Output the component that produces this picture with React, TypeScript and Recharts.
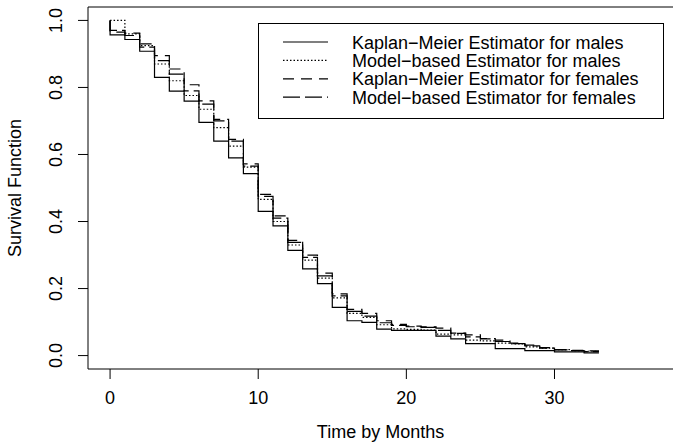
import { LineChart, Line, XAxis, YAxis, ReferenceLine, Legend, Label } from 'recharts';

// Event times in months; the first 0 is the starting point S(0) = 1
const months = [0, 0, 1, 2, 3, 4, 5, 6, 7, 8, 9, 10, 11, 12, 13, 14, 15, 16, 17, 18, 19, 20, 21, 22, 23, 24, 25, 26, 27, 28, 29, 30, 31, 32, 33];

const kmMales = [1.0, 0.957, 0.943, 0.908, 0.830, 0.789, 0.759, 0.696, 0.640, 0.590, 0.543, 0.430, 0.387, 0.314, 0.259, 0.215, 0.144, 0.104, 0.099, 0.079, 0.075, 0.075, 0.075, 0.058, 0.050, 0.036, 0.036, 0.021, 0.021, 0.015, 0.015, 0.011, 0.011, 0.008, 0.008];
const modelMales = [1.0, 1.0, 0.960, 0.925, 0.870, 0.820, 0.776, 0.735, 0.680, 0.625, 0.562, 0.466, 0.400, 0.330, 0.285, 0.231, 0.172, 0.126, 0.114, 0.092, 0.080, 0.078, 0.076, 0.064, 0.062, 0.046, 0.044, 0.037, 0.035, 0.026, 0.022, 0.018, 0.015, 0.013, 0.013];
const kmFemales = [1.0, 0.965, 0.962, 0.930, 0.895, 0.855, 0.808, 0.760, 0.705, 0.645, 0.572, 0.481, 0.417, 0.344, 0.300, 0.246, 0.184, 0.138, 0.126, 0.104, 0.093, 0.088, 0.086, 0.082, 0.067, 0.062, 0.051, 0.046, 0.037, 0.031, 0.024, 0.018, 0.016, 0.014, 0.014];
const modelFemales = [1.0, 0.970, 0.955, 0.920, 0.880, 0.840, 0.790, 0.750, 0.700, 0.640, 0.565, 0.475, 0.410, 0.338, 0.293, 0.238, 0.178, 0.132, 0.118, 0.098, 0.090, 0.086, 0.084, 0.075, 0.066, 0.056, 0.050, 0.042, 0.036, 0.029, 0.022, 0.017, 0.015, 0.012, 0.012];

const xTicks = [0, 10, 20, 30];
const yTicks = [0, 0.2, 0.4, 0.6, 0.8, 1.0];

// solid, dotted, dashed, long-dashed (R lty 1, 3, 2, 5)
const SERIES = [
  { key: 'kmMales', name: 'Kaplan\u2212Meier Estimator for males', dash: undefined },
  { key: 'modelMales', name: 'Model\u2212based Estimator for males', dash: '1.5 2' },
  { key: 'kmFemales', name: 'Kaplan\u2212Meier Estimator for females', dash: '11 7' },
  { key: 'modelFemales', name: 'Model\u2212based Estimator for females', dash: '17 5' },
];

const FONT = '"Liberation Sans", Arial, Helvetica, sans-serif';
const FS = 18;

const data = months.map((t, i) => ({
  t,
  kmMales: kmMales[i],
  modelMales: modelMales[i],
  kmFemales: kmFemales[i],
  modelFemales: modelFemales[i],
}));

function YTick({ x, y, payload }: any) {
  return (
    <text x={x} y={y} transform={`rotate(-90, ${x}, ${y})`} textAnchor="middle"
      fontSize={FS} fontFamily={FONT} fill="#000">
      {Number(payload.value).toFixed(1)}
    </text>
  );
}

function XTick({ x, y, payload }: any) {
  return (
    <text x={x} y={y} dy="0.71em" textAnchor="middle" fontSize={FS} fontFamily={FONT} fill="#000">
      {payload.value}
    </text>
  );
}

function LegendBox() {
  return (
    <div style={{ border: '1px solid #000', background: '#fff', width: 406, height: 96, boxSizing: 'border-box' }}>
      <svg width={404} height={94} style={{ display: 'block' }}>
        {SERIES.map((s, i) => {
          const cy = 18 + i * 18.4;
          return (
            <g key={s.key}>
              <line x1={24} x2={69} y1={cy} y2={cy} stroke="#000" strokeWidth={1.2} strokeDasharray={s.dash} />
              <text x={93} y={cy + 6.5} fontSize={FS} fontFamily={FONT} fill="#000">{s.name}</text>
            </g>
          );
        })}
      </svg>
    </div>
  );
}

export default function App() {
  return (
    <div style={{ position: 'absolute', left: 0, top: 0, width: 673, height: 443, background: '#fff', overflow: 'hidden' }}>
      <LineChart width={673} height={443} data={data} margin={{ top: 7, right: 0, bottom: 0, left: 0 }}>
        <XAxis dataKey="t" type="number" domain={[-1.49, 38]} ticks={xTicks} allowDataOverflow
          height={74} tickSize={10} tickMargin={12} tick={<XTick />} interval={0}
          axisLine={{ stroke: '#000' }} tickLine={{ stroke: '#000' }}>
          <Label content={({ viewBox }: any) => (
            <text x={viewBox.x + viewBox.width / 2} y={viewBox.y + 69} textAnchor="middle"
              fontSize={FS} fontFamily={FONT} fill="#000">Time by Months</text>
          )} />
        </XAxis>
        <YAxis type="number" domain={[-0.04, 1.04]} ticks={yTicks} allowDataOverflow
          width={88} tickSize={10} tickMargin={16} tick={<YTick />} interval={0}
          axisLine={{ stroke: '#000' }} tickLine={{ stroke: '#000' }}>
          <Label content={({ viewBox }: any) => {
            const cx = 21;
            const cy = viewBox.y + viewBox.height / 2;
            return (
              <text x={cx} y={cy} transform={`rotate(-90, ${cx}, ${cy})`} textAnchor="middle"
                fontSize={FS} fontFamily={FONT} fill="#000">Survival Function</text>
            );
          }} />
        </YAxis>
        {/* top edge of the plot frame */}
        <ReferenceLine y={1.04} stroke="#000" />
        {SERIES.map(s => (
          <Line key={s.key} dataKey={s.key} name={s.name} type="stepAfter" stroke="#000"
            strokeWidth={1.2} strokeDasharray={s.dash} dot={false} activeDot={false}
            isAnimationActive={false} />
        ))}
        <Legend layout="vertical" align="center" verticalAlign="middle" content={<LegendBox />}
          wrapperStyle={{ left: 258, top: 23, width: 406, height: 96 }} />
      </LineChart>
    </div>
  );
}
